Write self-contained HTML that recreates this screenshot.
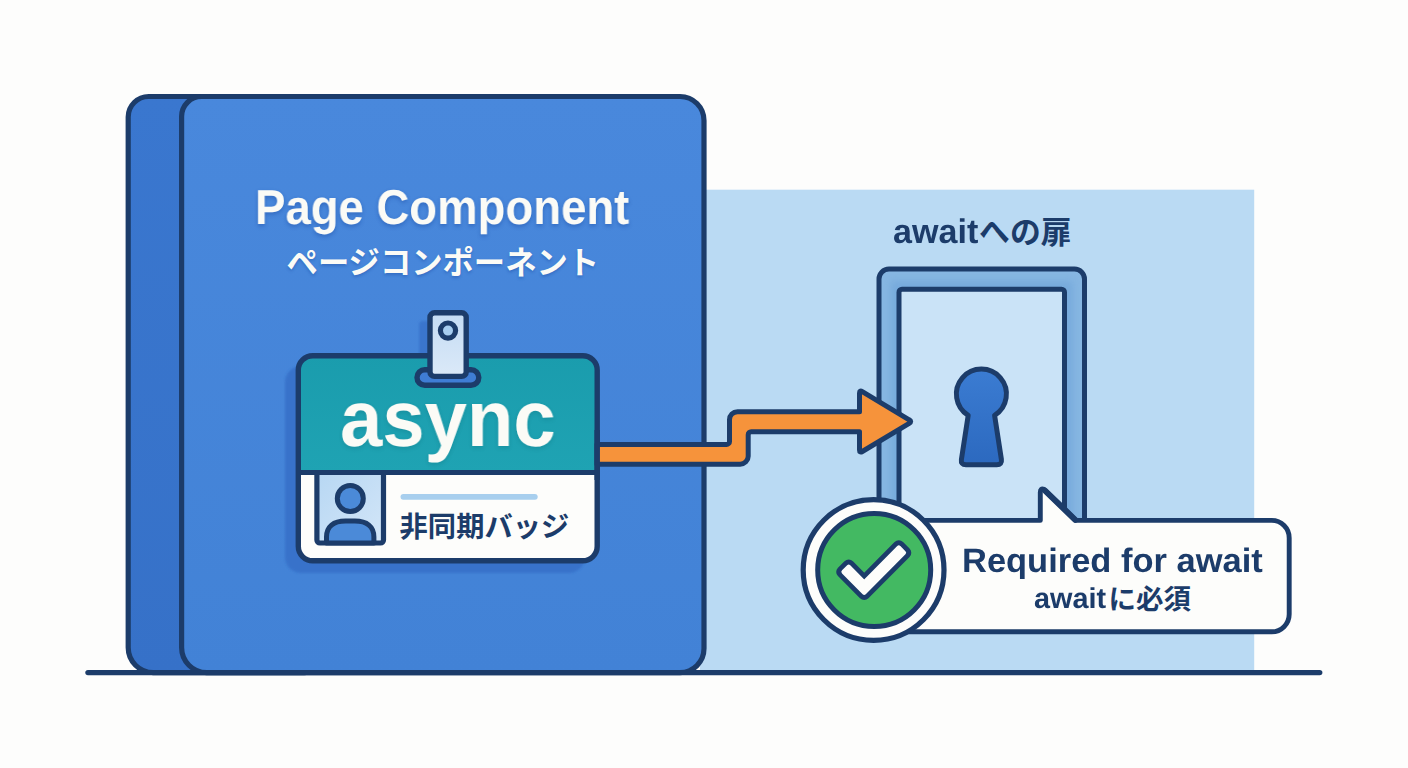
<!DOCTYPE html>
<html lang="ja"><head><meta charset="utf-8"><title>async Page Component - await</title>
<style>
html,body{margin:0;padding:0;background:#fdfdfc;}
body{width:1408px;height:768px;overflow:hidden;position:relative;font-family:"Liberation Sans",sans-serif;}
.art{position:absolute;left:0;top:0;display:block;}
.t{position:absolute;white-space:nowrap;font-weight:700;line-height:1;margin:0;transform-origin:0 0;will-change:transform;text-rendering:geometricPrecision;font-kerning:normal;font-family:"Liberation Sans",sans-serif;}
.w{color:#fbfbf6;text-shadow:0 2px 4px rgba(25,70,160,.45);}
.n{color:#1c3c6a;}
.jp{color:transparent;font-weight:700;}
</style></head>
<body>
<svg class="art" width="1408" height="768" viewBox="0 0 1408 768">
<defs>
<linearGradient id="gCard" x1="0" y1="0" x2="0" y2="1"><stop offset="0" stop-color="#4988dc"/><stop offset="1" stop-color="#4282d6"/></linearGradient>
<linearGradient id="gSide" x1="0" y1="0" x2="0" y2="1"><stop offset="0" stop-color="#3a77cf"/><stop offset="1" stop-color="#3671c8"/></linearGradient>
<linearGradient id="gTeal" x1="0" y1="0" x2="0" y2="1"><stop offset="0" stop-color="#1a9cad"/><stop offset="1" stop-color="#1fa3b3"/></linearGradient>
<linearGradient id="gKey" x1="0" y1="0" x2="0" y2="1"><stop offset="0" stop-color="#3b7cd2"/><stop offset="1" stop-color="#2c69bf"/></linearGradient>
<linearGradient id="gPhoto" x1="0" y1="0" x2="1" y2="1"><stop offset="0" stop-color="#b7d7f3"/><stop offset="1" stop-color="#d3e6f8"/></linearGradient>
<linearGradient id="gClip" x1="0" y1="0" x2="0" y2="1"><stop offset="0" stop-color="#c4dcf4"/><stop offset="1" stop-color="#dbe9f8"/></linearGradient>
<filter id="fSoft" x="-10%" y="-10%" width="120%" height="120%"><feGaussianBlur stdDeviation="1.2"/></filter>
<filter id="fTxt" x="-10%" y="-30%" width="120%" height="160%"><feGaussianBlur stdDeviation="1.8"/></filter>
<clipPath id="cFrame"><path d="M879 521V279a10 10 0 0 1 10-10H1074.5a10 10 0 0 1 10 10V521Z"/></clipPath>
<filter id="fSoft2" x="-20%" y="-20%" width="140%" height="140%"><feGaussianBlur stdDeviation="3.5"/></filter>
<clipPath id="cBadge"><rect x="298.3" y="355.7" width="298.9" height="205.1" rx="14.5"/></clipPath>
</defs>
<rect width="1408" height="768" fill="#fdfdfc"/>
<rect x="700" y="189.7" width="554.2" height="483" fill="#badaf3"/>
<path d="M148.7 96.5H304.2A24 24 0 0 1 328.2 120.5V648.6A24 24 0 0 1 304.2 672.6H153.2A25 25 0 0 1 128.2 647.6V117.0A20.5 20.5 0 0 1 148.7 96.5Z" fill="url(#gSide)" stroke="#1c3c6a" stroke-width="5.2"/>
<path d="M201.6 96.5H680.0A24 24 0 0 1 704.0 120.5V648.6A24 24 0 0 1 680.0 672.6H206.6A25 25 0 0 1 181.6 647.6V116.5A20 20 0 0 1 201.6 96.5Z" fill="url(#gCard)" stroke="#1c3c6a" stroke-width="5.2"/>
<path d="M88 672.6H1319.7" stroke="#1c3c6a" stroke-width="5.4" stroke-linecap="round" fill="none"/>
<path d="M879 521V279a10 10 0 0 1 10-10H1074.5a10 10 0 0 1 10 10V521Z" fill="#86b6e2" stroke="#1c3c6a" stroke-width="5"/>
<g clip-path="url(#cFrame)"><path d="M899 530V289.2H1064.5V530" fill="none" stroke="#5e97d3" stroke-width="16" opacity=".38" filter="url(#fSoft2)"/></g>
<path d="M899 521V292.2a3 3 0 0 1 3-3H1061.5a3 3 0 0 1 3 3V521Z" fill="#cae3f7" stroke="#1c3c6a" stroke-width="5"/>
<path d="M968.2 415.3A25 25 0 1 1 994.6 415.3L1001.4 459.5Q1002.2 464.8 996.8 464.8H966Q960.6 464.8 961.4 459.5Z" fill="url(#gKey)" stroke="#1c3c6a" stroke-width="5" stroke-linejoin="round"/>
<rect x="285" y="366" width="300" height="207" rx="16" fill="#3872ca" opacity=".95" filter="url(#fSoft)"/>
<rect x="419" y="321" width="12" height="50" rx="4" fill="#3872ca" opacity=".8" filter="url(#fSoft)"/>
<g clip-path="url(#cBadge)"><rect x="295" y="352" width="306" height="120.5" fill="url(#gTeal)"/><rect x="295" y="472.5" width="306" height="92" fill="#fdfdfb"/></g>
<path d="M316.9 472.5V540a3 3 0 0 0 3 3H380.5a3 3 0 0 0 3-3V472.5Z" fill="url(#gPhoto)" stroke="#1c3c6a" stroke-width="5.2" stroke-linejoin="round"/>
<circle cx="350.3" cy="498.5" r="13" fill="#4b8ad8" stroke="#1c3c6a" stroke-width="5"/>
<path d="M326.5 543V537C326.5 526.5 333.5 521 345.5 521H354.9C366.9 521 373.9 526.5 373.9 537V543Z" fill="#4b8ad8" stroke="#1c3c6a" stroke-width="5" stroke-linejoin="round"/>
<path d="M298.3 472.5H597.2" stroke="#1c3c6a" stroke-width="5.2"/>
<rect x="298.3" y="355.7" width="298.9" height="205.1" rx="14.5" fill="none" stroke="#1c3c6a" stroke-width="5.4"/>
<path d="M403.4 496.8H534.8" stroke="#a8cfee" stroke-width="5.8" stroke-linecap="round"/>
<rect x="417" y="369.7" width="61.8" height="15.6" rx="7.8" fill="#3f7dd4" stroke="#1c3c6a" stroke-width="5.4"/>
<rect x="430" y="312.8" width="36.2" height="63.6" rx="4.5" fill="url(#gClip)" stroke="#1c3c6a" stroke-width="5.4"/>
<circle cx="448" cy="330.6" r="7.6" fill="#a7cdef" stroke="#1c3c6a" stroke-width="5.2"/>
<path d="M597 444.4H726.5a3 3 0 0 0 3-3V419.7a8 8 0 0 1 8-8H859.5V393.2Q859.5 389.9 862.3 391.6L909.2 419.8Q912.2 421.5 909.2 423.3L862.3 451.5Q859.5 453.2 859.5 449.9V431.7H751.2a3 3 0 0 0-3 3V456.2a8 8 0 0 1-8 8H597Z" fill="#f6933b" stroke="#1c3c6a" stroke-width="5" stroke-linejoin="round"/>
<path d="M597.2 430V480" stroke="#1c3c6a" stroke-width="5.4"/>
<path d="M873 520.4H1040.3V492.5Q1040.3 488 1044 489.4L1076 520.4H1271.7a17.5 17.5 0 0 1 17.5 17.5V614.3a17.5 17.5 0 0 1-17.5 17.5H873Z" fill="#fdfdfb" stroke="#1c3c6a" stroke-width="4.9" stroke-linejoin="round"/>
<path d="M1045 490.6L1075.2 519.8" stroke="#1c3c6a" stroke-width="6" stroke-linecap="round"/>
<circle cx="873.6" cy="570" r="70.4" fill="#fdfdfb" stroke="#1c3c6a" stroke-width="5.2"/>
<circle cx="874.2" cy="570" r="56.5" fill="#43b962" stroke="#1c3c6a" stroke-width="5"/>
<polygon points="848.7,565.4 864.2,581.1 898.8,546.2 905.3,552.7 864.2,594.1 842.2,571.9" fill="#1c3c6a" stroke="#1c3c6a" stroke-width="12" stroke-linejoin="round"/>
<polygon points="848.7,566.8 864.2,582.5 898.8,547.6 903.9,552.7 864.2,592.7 843.6,571.9" fill="#fdfdfb" stroke="#fdfdfb" stroke-width="4.4" stroke-linejoin="round"/>
<g filter="url(#fTxt)" opacity=".45"><text x="286.6" y="276.2" font-size="31.32" font-weight="700" fill="#1d4fa8" font-family="&quot;Liberation Sans&quot;, &quot;Noto Sans CJK JP&quot;, sans-serif">ページコンポーネント</text></g>
<text x="286.6" y="273.9" font-size="31.32" font-weight="700" fill="#fbfbf6" font-family="&quot;Liberation Sans&quot;, &quot;Noto Sans CJK JP&quot;, sans-serif">ページコンポーネント</text>
<text x="399.6" y="536.6" font-size="28.27" font-weight="700" fill="#1c3c6a" font-family="&quot;Liberation Sans&quot;, &quot;Noto Sans CJK JP&quot;, sans-serif">非同期バッジ</text>
<text x="979.1" y="243.2" font-size="30.82" font-weight="700" fill="#1c3c6a" font-family="&quot;Liberation Sans&quot;, &quot;Noto Sans CJK JP&quot;, sans-serif">への扉</text>
<text x="1108.5" y="608.9" font-size="27.46" font-weight="700" fill="#1c3c6a" font-family="&quot;Liberation Sans&quot;, &quot;Noto Sans CJK JP&quot;, sans-serif">に必須</text>
</svg>
<h1 class="t w" id="t1" style="left:254.6px;top:184.1px;font-size:49px;transform:scaleX(.929)">Page Component</h1>
<div class="t jp" style="left:286px;top:246px;font-size:31px">ページコンポーネント</div>
<div class="t w" id="t2" style="left:340.3px;top:378.8px;font-size:79.5px;transform:scaleX(.9566);text-shadow:0 2px 4px rgba(10,90,100,.22)">async</div>
<div class="t jp" style="left:400px;top:512px;font-size:28px">非同期バッジ</div>
<div class="t n" id="t3" style="left:892.6px;top:214.5px;font-size:34.1px">await<span class="jp" style="font-size:30px">への扉</span></div>
<div class="t n" id="t4" style="left:962.4px;top:544.8px;font-size:33.8px;transform:scaleX(1.02)">Required for await</div>
<div class="t n" id="t5" style="left:1034.4px;top:584.6px;font-size:28.8px">await<span class="jp" style="font-size:27px">に必須</span></div>
</body></html>
